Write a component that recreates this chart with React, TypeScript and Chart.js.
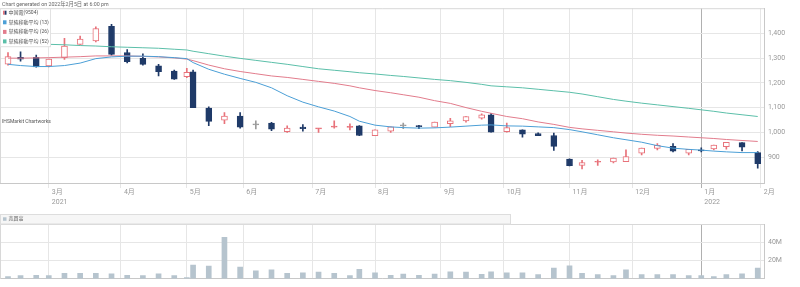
import React, { useEffect, useRef } from "react";
import { Chart, registerables } from "chart.js";
Chart.register(...registerables);

// ---------- data ----------
const holidays = [
  "2021-02-11", "2021-02-23", "2021-04-29", "2021-05-03", "2021-05-04", "2021-05-05",
  "2021-07-22", "2021-07-23", "2021-08-09", "2021-09-20", "2021-09-23", "2021-11-03",
  "2021-11-23", "2021-12-31", "2022-01-03", "2022-01-10", "2022-02-11", "2022-02-23",
];

const weekEnds = [
  "2021-02-05", "2021-02-12", "2021-02-19", "2021-02-26", "2021-03-05", "2021-03-12", "2021-03-19", "2021-03-26",
  "2021-04-02", "2021-04-09", "2021-04-16", "2021-04-23", "2021-04-30", "2021-05-07", "2021-05-14", "2021-05-21",
  "2021-05-28", "2021-06-04", "2021-06-11", "2021-06-18", "2021-06-25", "2021-07-02", "2021-07-09", "2021-07-16",
  "2021-07-21", "2021-07-30", "2021-08-06", "2021-08-13", "2021-08-20", "2021-08-27", "2021-09-03", "2021-09-10",
  "2021-09-17", "2021-09-24", "2021-10-01", "2021-10-08", "2021-10-15", "2021-10-22", "2021-10-29", "2021-11-05",
  "2021-11-12", "2021-11-19", "2021-11-26", "2021-12-03", "2021-12-10", "2021-12-17", "2021-12-24", "2021-12-30",
  "2022-01-07", "2022-01-14", "2022-01-21", "2022-01-28",
];

const opens = [
  1276, 1303, 1303, 1269, 1302, 1356, 1370, 1429, 1323, 1299, 1269, 1248, 1225, 1245, 1098, 1049,
  1066, 1030, 1037, 1003, 1021, 1014, 1021, 1020, 1026, 986, 1005, 1026, 1027, 1021, 1035, 1046,
  1057, 1071, 1003, 1010, 995, 987, 892, 866, 879, 880, 881, 916, 935, 943, 916, 929,
  933, 942, 958, 918,
];
const highs = [
  1323, 1326, 1312, 1296, 1380, 1389, 1427, 1437, 1335, 1317, 1275, 1252, 1259, 1252, 1103, 1080,
  1080, 1046, 1040, 1026, 1031, 1016, 1046, 1034, 1027, 1010, 1022, 1037, 1028, 1041, 1057, 1064,
  1075, 1077, 1037, 1010, 998, 997, 893, 887, 889, 896, 929, 936, 954, 954, 931, 937,
  948, 960, 958, 922,
];
const lows = [
  1272, 1288, 1263, 1265, 1295, 1356, 1366, 1312, 1281, 1272, 1228, 1214, 1221, 1100, 1027, 1035,
  1017, 1014, 1007, 1000, 1005, 1000, 1017, 1010, 986, 986, 1000, 1015, 1015, 1021, 1023, 1041,
  1053, 1001, 1001, 980, 986, 927, 864, 852, 866, 876, 881, 909, 929, 921, 909, 921,
  929, 932, 925, 855,
];
const closes = [
  1306, 1296, 1265, 1296, 1349, 1377, 1420, 1315, 1286, 1275, 1245, 1215, 1243, 1100, 1044, 1066,
  1021, 1030, 1013, 1017, 1015, 1016, 1023, 1022, 987, 1010, 1022, 1026, 1023, 1041, 1046, 1064,
  1071, 1001, 1019, 992, 986, 943, 865, 878, 882, 896, 902, 936, 947, 924, 931, 925,
  948, 960, 940, 873,
];

// volume in millions of shares
const volumes = [
  2.4, 3.4, 3.8, 3.4, 5.9, 5.9, 5.9, 5.5, 3.8, 3.4, 5.5, 3.4, 1.4, 14.9, 13.9, 45.4,
  12.8, 8.6, 9.7, 5.9, 6.6, 7.3, 5.9, 3.4, 10.4, 6.6, 3.8, 5.2, 3.8, 5.2, 7.6, 7.3,
  4.8, 7.6, 6.6, 6.6, 4.5, 11.7, 14.2, 5.9, 4.5, 3.4, 9.7, 4.5, 4.5, 4.5, 3.4, 3.4,
  2.4, 4.5, 5.5, 11.7,
];

const ma13 = [
  1275, 1270, 1266, 1266, 1270, 1280, 1298, 1305, 1308, 1308, 1306, 1302, 1298, 1282, 1255, 1235,
  1218, 1202, 1180, 1148, 1122, 1103, 1086, 1064, 1045, 1029, 1022, 1019, 1017, 1018, 1021, 1025,
  1029, 1030, 1026, 1025, 1022, 1019, 1011, 1002, 990, 978, 970, 960, 946, 936, 931, 928,
  924, 921, 918, 918,
];
const ma26 = [
  1300, 1300, 1301, 1302, 1304, 1306, 1309, 1309, 1309, 1307, 1305, 1301, 1296, 1290, 1272, 1257,
  1246, 1237, 1228, 1222, 1214, 1206, 1198, 1188, 1180, 1169, 1160, 1152, 1142, 1128, 1117, 1100,
  1085, 1077, 1064, 1055, 1042, 1032, 1020, 1014, 1008, 1002, 997, 992, 988, 985, 981, 978,
  975, 971, 967, 963,
];
const ma52 = [
  1362, 1360, 1358, 1356, 1354, 1351, 1349, 1346, 1344, 1342, 1340, 1336, 1333, 1328, 1318, 1308,
  1299, 1291, 1283, 1275, 1266, 1257, 1251, 1245, 1241, 1236, 1230, 1226, 1220, 1214, 1209, 1202,
  1194, 1188, 1184, 1180, 1174, 1168, 1162, 1155, 1144, 1133, 1126, 1118, 1111, 1104, 1097, 1091,
  1085, 1078, 1071, 1064,
];

const monthKeys = ["2021-03", "2021-04", "2021-05", "2021-06", "2021-07", "2021-08", "2021-09", "2021-10", "2021-11", "2021-12", "2022-01", "2022-02"];
const monthLabels = ["3月", "4月", "5月", "6月", "7月", "8月", "9月", "10月", "11月", "12月", "1月", "2月"];
const yearLabels = ["2021", "", "", "", "", "", "", "", "", "", "2022", ""];
const priceTicks = [900, 1000, 1100, 1200, 1300, 1400];
const volumeTicks = [0, 20, 40, 60];
const volumeTickLabels = ["", "20M", "40M", ""];

const titleText = "Chart generated on 2022年2月5日 at 6:00 pm";
const legendLabels = ["中国電(9504)", "単純移動平均 (13)", "単純移動平均 (26)", "単純移動平均 (52)"];
const watermark = "IHSMarkit Chartworks";
const volumeLabel = "売買高";

// ---------- styles ----------
const PINK = "#e8727a";
const NAVY = "#1f3a68";
const GREY = "#9a9a9a";
const BLUE = "#4b9fd6";
const ROSE = "#e27c8c";
const TEAL = "#5bbfa9";
const VOL = "#b6c4ce";
const FONT = "Roboto, 'Noto Sans CJK JP', sans-serif";

function buildTradingDays(start: string, end: string): string[] {
  const out: string[] = [];
  const d = new Date(start + "T00:00:00Z");
  const e = new Date(end + "T00:00:00Z");
  while (d <= e) {
    const wd = d.getUTCDay();
    const s = d.toISOString().slice(0, 10);
    if (wd !== 0 && wd !== 6 && holidays.indexOf(s) < 0) out.push(s);
    d.setUTCDate(d.getUTCDate() + 1);
  }
  return out;
}

export default function App() {
  const mainRef = useRef<HTMLCanvasElement>(null);
  const volRef = useRef<HTMLCanvasElement>(null);

  useEffect(() => {
    document.body.style.margin = "0";
    Chart.defaults.font.family = FONT;

    const days = buildTradingDays("2021-02-01", "2022-02-28");
    const xs = weekEnds.map((d) => days.indexOf(d));
    const monthTickValues = monthKeys.map((k) => days.findIndex((d) => d.startsWith(k)) - 1);
    const janValue = monthTickValues[10];
    const XMIN = 1.45;
    const XMAX = 245;

    const edgeColor = closes.map((c, i) => (c > opens[i] ? PINK : c < opens[i] ? NAVY : GREY));
    const bodyFill = closes.map((c, i) => {
      const o = opens[i];
      if (c < o) return NAVY;
      if (c === o) return GREY;
      return c - o < 6 ? PINK : "#ffffff";
    });

    const gridColor = (ctx: any) => (ctx.tick && ctx.tick.value === janValue ? "#b0b0b0" : "#e6e6e6");

    const xScaleBase = (showLabels: boolean, height: number) => ({
      type: "linear" as const,
      min: XMIN,
      max: XMAX,
      offset: false,
      afterBuildTicks: (scale: any) => {
        scale.ticks = monthTickValues.map((v) => ({ value: v }));
      },
      afterFit: (scale: any) => {
        scale.height = height;
      },
      grid: { color: gridColor, offset: false, drawTicks: showLabels, tickLength: 5, lineWidth: 1 },
      border: { display: true, color: "#c8c8c8" },
      ticks: {
        display: showLabels,
        autoSkip: false,
        maxRotation: 0,
        minRotation: 0,
        align: "start" as const,
        labelOffset: 3,
        padding: 0,
        color: "#999",
        font: { size: 7, lineHeight: 1.35 },
        callback: (value: any) => {
          const i = monthTickValues.indexOf(Number(value));
          if (i < 0) return "";
          return yearLabels[i] ? [monthLabels[i], yearLabels[i]] : monthLabels[i];
        },
      },
    });

    const mainOverlay = {
      id: "mainOverlay",
      beforeDatasetsDraw(chart: any) {
        const { ctx, chartArea: a } = chart;
        ctx.save();
        ctx.strokeStyle = "#d8d8d8";
        ctx.lineWidth = 1;
        ctx.beginPath();
        ctx.moveTo(a.left + 0.5, a.bottom);
        ctx.lineTo(a.left + 0.5, a.top + 0.5);
        ctx.lineTo(a.right, a.top + 0.5);
        ctx.stroke();
        ctx.restore();
      },
      afterDraw(chart: any) {
        const { ctx, chartArea: a } = chart;
        ctx.save();
        ctx.textBaseline = "middle";
        ctx.textAlign = "left";
        ctx.fillStyle = "#666";
        ctx.font = "5.3px " + FONT;
        ctx.fillText(titleText, 2, 4.3);
        // legend
        ctx.fillStyle = "#ffffff";
        ctx.fillRect(a.left + 1, a.top + 1, 49.5, 37.5);
        ctx.strokeStyle = "#e2e2e2";
        ctx.strokeRect(a.left + 0.5, a.top + 0.5, 50, 38);
        const colors = [NAVY, BLUE, ROSE, TEAL];
        const rowsY = [12.7, 22.3, 31.9, 41.4];
        legendLabels.forEach((t, i) => {
          const y = rowsY[i];
          if (i === 0) {
            ctx.fillStyle = PINK;
            ctx.fillRect(3, y - 2, 1.7, 4);
            ctx.fillStyle = NAVY;
            ctx.fillRect(4.7, y - 2, 1.8, 4);
          } else {
            ctx.fillStyle = colors[i];
            ctx.fillRect(3, y - 2, 3.5, 4);
          }
          ctx.fillStyle = "#555";
          ctx.font = "5px " + FONT;
          ctx.fillText(t, 8.5, y);
        });
        ctx.fillStyle = "#555";
        ctx.font = "5px " + FONT;
        ctx.fillText(watermark, 2, 122);
        ctx.restore();
      },
    };

    const main = new Chart(mainRef.current!, {
      type: "bar",
      data: {
        datasets: [
          {
            type: "line",
            label: "MA13",
            data: xs.map((x, i) => ({ x, y: ma13[i] })),
            borderColor: BLUE,
            borderWidth: 1,
            pointRadius: 0,
            order: 0,
          } as any,
          {
            type: "line",
            label: "MA26",
            data: xs.map((x, i) => ({ x, y: ma26[i] })),
            borderColor: ROSE,
            borderWidth: 1,
            pointRadius: 0,
            order: 0,
          },
          {
            type: "line",
            label: "MA52",
            data: xs.map((x, i) => ({ x, y: ma52[i] })),
            borderColor: TEAL,
            borderWidth: 1,
            pointRadius: 0,
            order: 0,
          },
          {
            type: "bar",
            label: "body",
            data: xs.map((x, i) => ({ x, y: [opens[i], closes[i]] })),
            backgroundColor: bodyFill,
            borderColor: edgeColor,
            borderWidth: 1,
            borderSkipped: false,
            barThickness: 6,
            minBarLength: 1,
            grouped: false,
            order: 1,
          },
          {
            type: "bar",
            label: "wick",
            data: xs.map((x, i) => ({ x, y: [lows[i], highs[i]] })),
            backgroundColor: edgeColor,
            borderWidth: 0,
            barThickness: 1,
            minBarLength: 1,
            grouped: false,
            order: 2,
          },
        ] as any,
      },
      options: {
        animation: false,
        responsive: false,
        events: [],
        layout: { padding: { top: 8, left: 0, right: 0, bottom: 0 } },
        plugins: { legend: { display: false }, tooltip: { enabled: false } },
        scales: {
          x: xScaleBase(true, 29) as any,
          y: {
            type: "linear",
            position: "right",
            min: 795,
            max: 1502,
            afterBuildTicks: (scale: any) => {
              scale.ticks = priceTicks.map((v) => ({ value: v }));
            },
            afterFit: (scale: any) => {
              scale.width = 36;
            },
            grid: { color: "#e6e6e6", drawTicks: false },
            border: { display: true, color: "#c8c8c8" },
            ticks: {
              padding: 4,
              color: "#999",
              font: { size: 7 },
              callback: (v: any) => Number(v).toLocaleString("en-US"),
            },
          },
        },
      },
      plugins: [mainOverlay],
    });

    const volOverlay = {
      id: "volOverlay",
      beforeDatasetsDraw(chart: any) {
        const { ctx, chartArea: a } = chart;
        ctx.save();
        ctx.strokeStyle = "#d8d8d8";
        ctx.lineWidth = 1;
        ctx.beginPath();
        ctx.moveTo(a.left + 0.5, a.bottom);
        ctx.lineTo(a.left + 0.5, a.top + 0.5);
        ctx.lineTo(a.right, a.top + 0.5);
        ctx.stroke();
        ctx.restore();
      },
      afterDraw(chart: any) {
        const { ctx } = chart;
        ctx.save();
        ctx.fillStyle = "#f6f6f6";
        ctx.fillRect(0.5, 2.5, 510, 9.5);
        ctx.strokeStyle = "#dddddd";
        ctx.lineWidth = 1;
        ctx.strokeRect(0.5, 2.5, 510, 9.5);
        ctx.fillStyle = VOL;
        ctx.fillRect(3, 5.3, 3.5, 3.5);
        ctx.fillStyle = "#555";
        ctx.font = "5px " + FONT;
        ctx.textBaseline = "middle";
        ctx.fillText(volumeLabel, 8.5, 7.2);
        ctx.restore();
      },
    };

    const vol = new Chart(volRef.current!, {
      type: "bar",
      data: {
        datasets: [
          {
            label: volumeLabel,
            data: xs.map((x, i) => ({ x, y: volumes[i] })),
            backgroundColor: VOL,
            borderWidth: 0,
            barThickness: 5,
            grouped: false,
          } as any,
        ],
      },
      options: {
        animation: false,
        responsive: false,
        events: [],
        layout: { padding: { top: 12, left: 0, right: 0, bottom: 0 } },
        plugins: { legend: { display: false }, tooltip: { enabled: false } },
        scales: {
          x: xScaleBase(false, 5) as any,
          y: {
            type: "linear",
            position: "right",
            min: 0,
            max: 60,
            afterBuildTicks: (scale: any) => {
              scale.ticks = volumeTicks.map((v) => ({ value: v }));
            },
            afterFit: (scale: any) => {
              scale.width = 36;
            },
            grid: { color: "#e6e6e6", drawTicks: false },
            border: { display: true, color: "#c8c8c8" },
            ticks: {
              padding: 4,
              color: "#999",
              font: { size: 7 },
              callback: (v: any) => {
                const i = volumeTicks.indexOf(Number(v));
                return i >= 0 ? volumeTickLabels[i] : "";
              },
            },
          },
        },
      },
      plugins: [volOverlay],
    });

    return () => {
      main.destroy();
      vol.destroy();
    };
  }, []);

  return (
    <div style={{ position: "relative", width: 800, height: 287, overflow: "hidden", background: "#fff" }}>
      <canvas ref={mainRef} width={800} height={212} style={{ position: "absolute", left: 0, top: 0, width: 800, height: 212 }} />
      <canvas ref={volRef} width={800} height={75} style={{ position: "absolute", left: 0, top: 212, width: 800, height: 75 }} />
    </div>
  );
}
